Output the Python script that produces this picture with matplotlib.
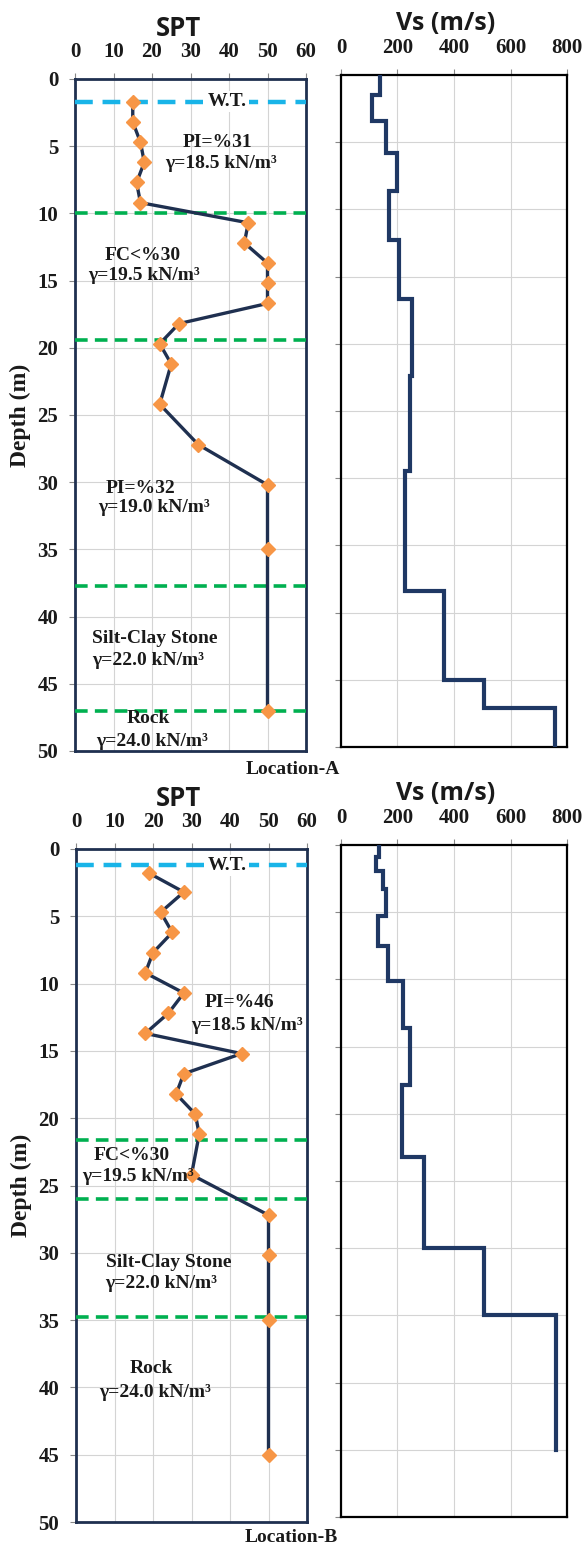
import matplotlib
matplotlib.use("Agg")
import matplotlib.pyplot as plt

# ---- data ----
# Location-A SPT
spt_depth_a = [1.7, 3.2, 4.7, 6.2, 7.7, 9.2, 10.7, 12.2, 13.7, 15.2, 16.7,
               18.2, 19.7, 21.2, 24.2, 27.2, 30.2, 35.0, 47.0]
spt_n_a = [15, 15, 17, 18, 16, 17, 45, 44, 50, 50, 50,
           27, 22, 25, 22, 32, 50, 50, 50]
# Location-A Vs (layer edges and velocity in each layer)
vs_edges_a = [0, 1.5, 3.45, 5.8, 8.6, 12.3, 16.7, 22.4, 29.5, 38.4, 45.0, 47.1, 50.0]
vs_vals_a = [137, 110, 159, 200, 169, 205, 250, 245, 228, 363, 507, 759]
wt_a = 1.7
bounds_a = [10.0, 19.4, 37.7, 47.0]

# Location-B SPT
spt_depth_b = [1.8, 3.2, 4.7, 6.2, 7.7, 9.2, 10.7, 12.2, 13.7, 15.2, 16.7,
               18.2, 19.7, 21.2, 24.2, 27.2, 30.2, 35.0, 45.0]
spt_n_b = [19, 28, 22, 25, 20, 18, 28, 24, 18, 43, 28,
           26, 31, 32, 30, 50, 50, 50, 50]
# Location-B Vs
vs_edges_b = [0, 0.9, 1.95, 3.3, 5.25, 7.5, 10.1, 13.6, 17.85, 23.2, 30.0, 35.0, 45.0]
vs_vals_b = [135, 125, 149, 160, 131, 166, 219, 245, 216, 295, 506, 760]
wt_b = 1.2
bounds_b = [21.6, 26.0, 34.8]

# layer labels: (text, x, depth, ha)
labels_a = [
    ("W.T.", 39.5, wt_a, "center"),
    ("PI=%31", 37, 4.7, "center"),
    ("γ=18.5 kN/m³", 38, 6.3, "center"),
    ("FC<%30", 17.5, 13.1, "center"),
    ("γ=19.5 kN/m³", 18, 14.6, "center"),
    ("PI=%32", 17, 30.5, "center"),
    ("γ=19.0 kN/m³", 20.5, 31.9, "center"),
    ("Silt-Clay Stone", 4.5, 41.6, "left"),
    ("γ=22.0 kN/m³", 4.5, 43.3, "left"),
    ("Rock", 19, 47.6, "center"),
    ("γ=24.0 kN/m³", 20, 49.3, "center"),
]
labels_b = [
    ("W.T.", 39.2, wt_b, "center"),
    ("PI=%46", 42.5, 11.4, "center"),
    ("γ=18.5 kN/m³", 44.5, 13.1, "center"),
    ("FC<%30", 14.5, 22.8, "center"),
    ("γ=19.5 kN/m³", 16, 24.3, "center"),
    ("Silt-Clay Stone", 24, 30.7, "center"),
    ("γ=22.0 kN/m³", 22, 32.3, "center"),
    ("Rock", 19.5, 38.6, "center"),
    ("γ=24.0 kN/m³", 20.5, 40.4, "center"),
]

W, H = 584, 1553
NAVY = "#1f3050"
ORANGE = "#f79646"
GREEN = "#00b050"
BLUE = "#19b4e8"
GRID = "#d4d4d4"
SERIF = "Liberation Serif"
SANS = "Open Sans"

fig = plt.figure(figsize=(W / 100, H / 100), dpi=100)


def px_axes(left, top, right, bottom):
    return fig.add_axes([left / W, 1 - bottom / H, (right - left) / W, (bottom - top) / H])


def style_axes(ax, xmax, xstep, frame_color, frame_lw, ylabels):
    ax.set_xlim(0, xmax)
    ax.set_ylim(50, 0)
    ax.set_xticks(range(0, xmax + 1, xstep))
    ax.set_yticks(range(0, 51, 5))
    ax.xaxis.tick_top()
    ax.grid(True, color=GRID, lw=0.8)
    ax.set_axisbelow(True)
    ax.tick_params(axis="x", top=True, bottom=False, length=4, color="#888888",
                   pad=8, labelsize=15)
    ax.tick_params(axis="y", left=True, length=4, color="#888888", pad=8,
                   labelsize=15, labelleft=ylabels)
    for lab in ax.get_xticklabels() + ax.get_yticklabels():
        lab.set_fontfamily(SERIF)
        lab.set_fontweight("bold")
        lab.set_color("#1a1a1a")
    for s in ax.spines.values():
        s.set_color(frame_color)
        s.set_linewidth(frame_lw)


def draw_spt(ax, depth, n, wt, bounds, labels):
    style_axes(ax, 60, 10, NAVY, 2.0, True)
    ax.plot(n, depth, color=NAVY, lw=2.4, marker="D", ms=7,
            mfc=ORANGE, mec=ORANGE, zorder=4)
    ax.axhline(wt, color=BLUE, lw=3.2, ls=(0, (4, 2.2)), zorder=3)
    for b in bounds:
        ax.axhline(b, color=GREEN, lw=2.6, ls=(0, (3.5, 2)), zorder=3)
    for txt, x, y, ha in labels:
        kw = {}
        if txt == "W.T.":
            kw["bbox"] = dict(facecolor="white", edgecolor="none", pad=1.5)
        ax.text(x, y, txt, ha=ha, va="center", fontsize=14, fontweight="bold",
                family=SERIF, color="#1a1a1a", zorder=5, **kw)
    ax.set_ylabel("Depth (m)", fontsize=17, fontweight="bold", family=SERIF,
                  labelpad=5, color="#1a1a1a")


def draw_vs(ax, edges, vals):
    style_axes(ax, 800, 200, "black", 1.6, False)
    xs, ys = [], []
    for i, v in enumerate(vals):
        xs += [v, v]
        ys += [edges[i], edges[i + 1]]
    ax.plot(xs, ys, color="#1f3864", lw=3.0, solid_joinstyle="miter", zorder=4)


# Location-A
ax1 = px_axes(75, 79, 306, 751)
draw_spt(ax1, spt_depth_a, spt_n_a, wt_a, bounds_a, labels_a)
ax2 = px_axes(341, 75, 567, 747)
draw_vs(ax2, vs_edges_a, vs_vals_a)

# Location-B
ax3 = px_axes(76, 849, 307, 1522)
draw_spt(ax3, spt_depth_b, spt_n_b, wt_b, bounds_b, labels_b)
ax4 = px_axes(341, 845, 567, 1517)
draw_vs(ax4, vs_edges_b, vs_vals_b)

# titles and location captions
for ytop in (0, 770):
    fig.text(178 / W, 1 - (ytop + 29) / H, "SPT", ha="center", va="center",
             fontsize=18.5, fontweight="bold", family=SANS, color="#1a1a1a")
    fig.text(446 / W, 1 - (ytop + 24) / H, "Vs (m/s)", ha="center", va="center",
             fontsize=18, fontweight="bold", family=SANS, color="#1a1a1a")
fig.text(293 / W, 1 - 769 / H, "Location-A", ha="center", va="center",
         fontsize=14, fontweight="bold", family=SERIF, color="#1a1a1a")
fig.text(291 / W, 1 - 1538 / H, "Location-B", ha="center", va="center",
         fontsize=14, fontweight="bold", family=SERIF, color="#1a1a1a")

fig.savefig("out.png", dpi=100, facecolor="white")
